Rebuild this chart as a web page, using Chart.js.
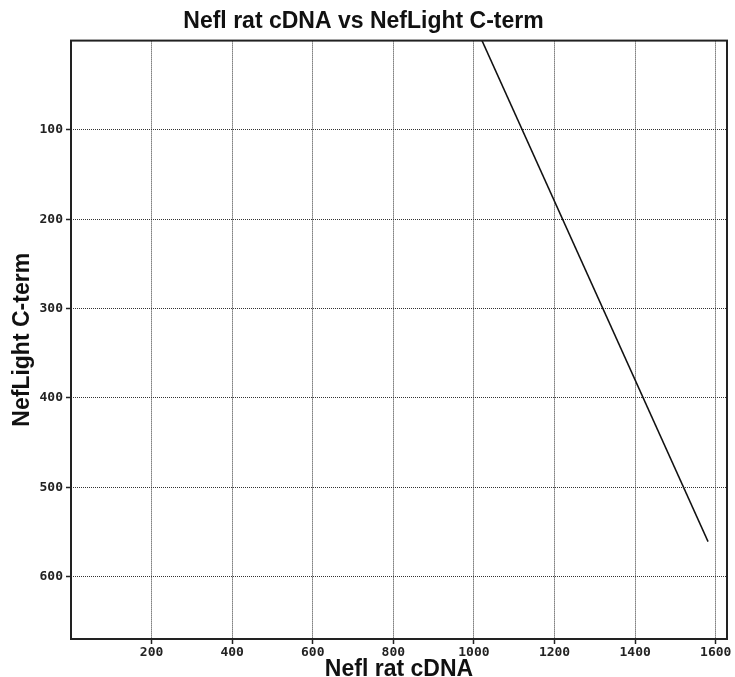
<!DOCTYPE html>
<html>
<head>
<meta charset="utf-8">
<script src="https://cdn.jsdelivr.net/npm/chart.js@4"></script>
<style>
  body { margin: 0; background: #fff; }
  #chart { display: block; }
</style>
</head>
<body>
<canvas id="chart" width="735" height="677"></canvas>
<script>
const xValues = [1020, 1581];
const yValues = [0, 561];
const xTicks = [200, 400, 600, 800, 1000, 1200, 1400, 1600];
const yTicks = [100, 200, 300, 400, 500, 600];

const tickFont = { family: 'DejaVu Sans Mono', size: 13, weight: 'bold' };
const labelFont = { family: 'Liberation Sans', size: 23, weight: 'bold', lineHeight: 1 };

// box round the plot area, like the original
const frame = {
  id: 'frame',
  afterDraw(chart) {
    const { ctx, chartArea: a } = chart;
    ctx.save();
    ctx.strokeStyle = '#222';
    ctx.lineWidth = 2;
    ctx.strokeRect(a.left, a.top, a.right - a.left, a.bottom - a.top);
    ctx.restore();
  }
};

function gridOpts() {
  return {
    color: '#333',
    lineWidth: 1,
    tickLength: 5,
    tickColor: '#222',
    tickWidth: 1.5
  };
}

new Chart(document.getElementById('chart'), {
  type: 'line',
  data: {
    datasets: [{
      data: xValues.map((x, i) => ({ x: x, y: yValues[i] })),
      borderColor: '#111',
      borderWidth: 1.5,
      pointRadius: 0,
      fill: false
    }]
  },
  options: {
    responsive: false,
    animation: false,
    layout: { padding: { right: 8 } },
    plugins: {
      legend: { display: false },
      tooltip: { enabled: false },
      title: {
        display: true,
        text: 'Nefl rat cDNA vs NefLight C-term',
        color: '#111',
        font: { family: 'Liberation Sans', size: 23, weight: 'bold', lineHeight: 1.2 },
        padding: { top: 8, bottom: 5 }
      }
    },
    scales: {
      x: {
        type: 'linear',
        min: 0,
        max: 1628,
        afterBuildTicks: s => { s.ticks = xTicks.map(v => ({ value: v })); },
        afterFit: s => { s.height = 38; },
        grid: gridOpts(),
        border: { display: false, dash: [1, 1] },
        ticks: { font: tickFont, color: '#222', padding: 1, maxRotation: 0, callback: v => String(v) },
        title: { display: true, text: 'Nefl rat cDNA', color: '#111', font: labelFont, padding: { top: 0, bottom: -4 } }
      },
      y: {
        type: 'linear',
        reverse: true,
        min: 0,
        max: 670,
        afterBuildTicks: s => { s.ticks = yTicks.map(v => ({ value: v })); },
        afterFit: s => { s.width = 71; },
        grid: gridOpts(),
        border: { display: false, dash: [1, 1] },
        ticks: { font: tickFont, color: '#222', padding: 3, callback: v => String(v) },
        title: { display: true, text: 'NefLight C-term', color: '#111', font: labelFont, padding: { top: 11, bottom: 0 } }
      }
    }
  },
  plugins: [frame]
});
</script>
</body>
</html>
